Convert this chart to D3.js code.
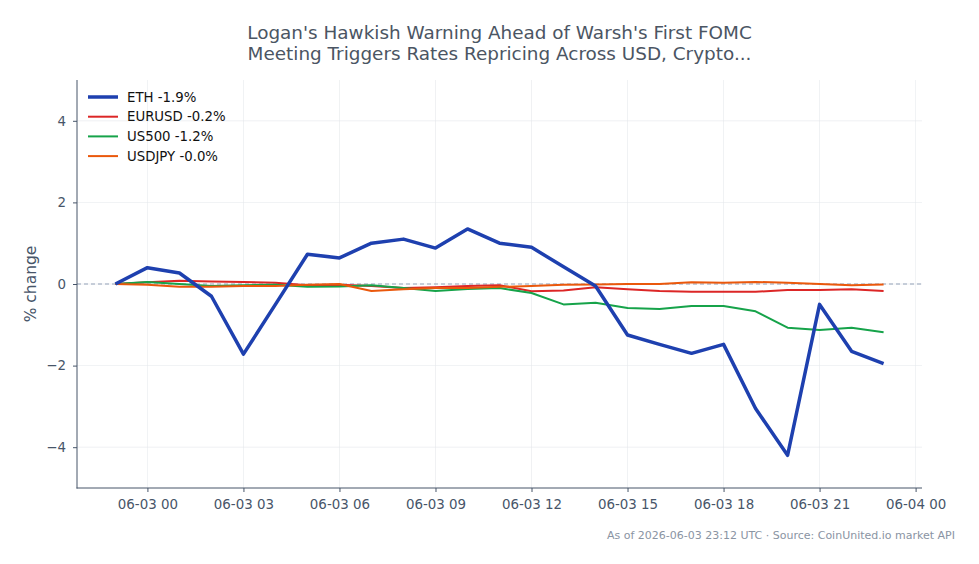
<!DOCTYPE html>
<html>
<head>
<meta charset="utf-8">
<script src="https://cdn.jsdelivr.net/npm/d3@7"></script>
<style>
  body { margin: 0; background: #fff; }
  svg text { font-family: "DejaVu Sans", sans-serif; }
</style>
</head>
<body>
<div id="chart"></div>
<script>
// hourly timestamps (UTC)
const times = [
    '2026-06-02T23:00Z', '2026-06-03T00:00Z', '2026-06-03T01:00Z', '2026-06-03T02:00Z',
    '2026-06-03T03:00Z', '2026-06-03T04:00Z', '2026-06-03T05:00Z', '2026-06-03T06:00Z',
    '2026-06-03T07:00Z', '2026-06-03T08:00Z', '2026-06-03T09:00Z', '2026-06-03T10:00Z',
    '2026-06-03T11:00Z', '2026-06-03T12:00Z', '2026-06-03T13:00Z', '2026-06-03T14:00Z',
    '2026-06-03T15:00Z', '2026-06-03T16:00Z', '2026-06-03T17:00Z', '2026-06-03T18:00Z',
    '2026-06-03T19:00Z', '2026-06-03T20:00Z', '2026-06-03T21:00Z', '2026-06-03T22:00Z',
    '2026-06-03T23:00Z',
];

const ethValues = [0, 0.4, 0.27, -0.3, -1.72, -0.5, 0.73, 0.64, 1.0, 1.1, 0.88, 1.35, 1.0,
    0.9, 0.42, -0.05, -1.25, -1.48, -1.7, -1.48, -3.05, -4.2, -0.5, -1.65, -1.95];
const eurusdValues = [0, 0.04, 0.08, 0.06, 0.05, 0.03, -0.03, -0.02, -0.05, -0.1, -0.08, -0.05,
    -0.03, -0.18, -0.16, -0.08, -0.13, -0.17, -0.19, -0.19, -0.19, -0.15, -0.15, -0.13, -0.17];
const us500Values = [0, 0.05, 0.0, -0.05, -0.03, -0.02, -0.07, -0.06, -0.03, -0.1, -0.17, -0.12,
    -0.1, -0.22, -0.5, -0.46, -0.59, -0.61, -0.54, -0.54, -0.67, -1.07, -1.13, -1.07, -1.18];
const usdjpyValues = [0, -0.02, -0.07, -0.07, -0.05, -0.05, -0.02, 0.0, -0.17, -0.13, -0.1, -0.1,
    -0.07, -0.05, -0.02, -0.01, 0.0, 0.0, 0.04, 0.03, 0.05, 0.03, 0.0, -0.03, -0.01];

const seriesNames = ['ETH -1.9%', 'EURUSD -0.2%', 'US500 -1.2%', 'USDJPY -0.0%'];
const seriesColors = ['#1e40af', '#dc2626', '#16a34a', '#ea580c'];
const seriesWidths = [3.5, 2, 2, 2];
const yTicks = [-4, -2, 0, 2, 4];
const xTickTimes = [
    '2026-06-03T00:00Z', '2026-06-03T03:00Z', '2026-06-03T06:00Z', '2026-06-03T09:00Z',
    '2026-06-03T12:00Z', '2026-06-03T15:00Z', '2026-06-03T18:00Z', '2026-06-03T21:00Z',
    '2026-06-04T00:00Z',
];

const width = 979;
const height = 564;
const margin = { top: 80, right: 57, bottom: 76, left: 77 };
const axisColor = '#475569';

const dates = times.map(t => new Date(t));
const allSeries = [ethValues, eurusdValues, us500Values, usdjpyValues];
const series = allSeries.map((vals, i) => ({
    name: seriesNames[i],
    color: seriesColors[i],
    width: seriesWidths[i],
    points: vals.map((v, j) => ({ t: dates[j], v: v })),
}));

const svg = d3.select('#chart')
    .append('svg')
    .attr('width', width)
    .attr('height', height);

// 5% padding on the time range, like the source chart
const span = dates[dates.length - 1] - dates[0];
const x = d3.scaleUtc()
    .domain([new Date(+dates[0] - span * 0.05), new Date(+dates[dates.length - 1] + span * 0.05)])
    .range([margin.left, width - margin.right]);

const y = d3.scaleLinear()
    .domain([-5, 5])
    .range([height - margin.bottom, margin.top]);

// grid
const grid = svg.append('g').attr('stroke', '#e5e7eb').attr('stroke-width', 0.8);
grid.selectAll('.gx')
    .data(xTickTimes.map(t => new Date(t)))
    .join('line')
    .attr('x1', d => x(d)).attr('x2', d => x(d))
    .attr('y1', margin.top).attr('y2', height - margin.bottom)
    .attr('opacity', 0.7);
grid.selectAll('.gy')
    .data(yTicks)
    .join('line')
    .attr('x1', margin.left).attr('x2', width - margin.right)
    .attr('y1', d => y(d)).attr('y2', d => y(d))
    .attr('opacity', 0.7);

// zero line
svg.append('line')
    .attr('x1', margin.left).attr('x2', width - margin.right)
    .attr('y1', y(0)).attr('y2', y(0))
    .attr('stroke', '#94a3b8')
    .attr('stroke-width', 1)
    .attr('stroke-dasharray', '4,3');

/**
 * draw the series, thin ones first then ETH on top
 */
const line = d3.line().x(d => x(d.t)).y(d => y(d.v));
const drawOrder = [1, 2, 3, 0];
svg.append('g')
    .selectAll('path')
    .data(drawOrder.map(i => series[i]))
    .join('path')
    .attr('fill', 'none')
    .attr('stroke', d => d.color)
    .attr('stroke-width', d => d.width)
    .attr('stroke-linejoin', 'round')
    .attr('d', d => line(d.points));

// axes (domain paths replaced by plain spines below)
let xAxis = (g) => {
    g.attr('transform', `translate(0,${height - margin.bottom})`)
        .call(d3.axisBottom(x)
            .tickValues(xTickTimes.map(t => new Date(t)))
            .tickFormat(d3.utcFormat('%m-%d %H'))
            .tickSize(4)
            .tickPadding(7));
    g.select('.domain').remove();
    g.selectAll('.tick line').attr('stroke', axisColor);
    g.selectAll('.tick text').attr('fill', axisColor).attr('font-size', '13.4px');
};

let yAxis = (g) => {
    g.attr('transform', `translate(${margin.left},0)`)
        .call(d3.axisLeft(y)
            .tickValues(yTicks)
            .tickFormat(d => d < 0 ? '\u2212' + Math.abs(d) : d)
            .tickSize(4)
            .tickPadding(7));
    g.select('.domain').remove();
    g.selectAll('.tick line').attr('stroke', axisColor);
    g.selectAll('.tick text').attr('fill', axisColor).attr('font-size', '13.4px');
};

svg.append('g').call(xAxis);
svg.append('g').call(yAxis);

// left and bottom spines
const spines = svg.append('g').attr('stroke', axisColor).attr('stroke-width', 1);
spines.append('line')
    .attr('x1', margin.left).attr('x2', margin.left)
    .attr('y1', margin.top).attr('y2', height - margin.bottom + 0.5);
spines.append('line')
    .attr('x1', margin.left - 0.5).attr('x2', width - margin.right)
    .attr('y1', height - margin.bottom).attr('y2', height - margin.bottom);

svg.append('text')
    .attr('transform', `translate(36,${y(0)}) rotate(-90)`)
    .attr('text-anchor', 'middle')
    .attr('fill', axisColor)
    .attr('font-size', '15.5px')
    .text('% change');

// title
const title = svg.append('text')
    .attr('text-anchor', 'middle')
    .attr('fill', '#4b5563')
    .attr('font-size', '18.4px');
title.append('tspan').attr('x', (margin.left + width - margin.right) / 2).attr('y', 39)
    .text('Logan\'s Hawkish Warning Ahead of Warsh\'s First FOMC');
title.append('tspan').attr('x', (margin.left + width - margin.right) / 2).attr('y', 60)
    .text('Meeting Triggers Rates Repricing Across USD, Crypto...');

// legend
const legend = svg.append('g').attr('transform', 'translate(88,97)');
const rows = legend.selectAll('g')
    .data(series)
    .join('g')
    .attr('transform', (d, i) => `translate(0,${i * 19.7})`);
rows.append('line')
    .attr('x1', 0).attr('x2', 30)
    .attr('stroke', d => d.color)
    .attr('stroke-width', d => d.width);
rows.append('text')
    .attr('x', 39)
    .attr('dy', '0.35em')
    .attr('font-size', '13.3px')
    .attr('fill', '#111')
    .text(d => d.name);

// footer
svg.append('text')
    .attr('x', 955)
    .attr('y', 539)
    .attr('text-anchor', 'end')
    .attr('font-size', '11px')
    .attr('fill', '#8a94a3')
    .text('As of 2026-06-03 23:12 UTC \u00b7 Source: CoinUnited.io market API');
</script>
</body>
</html>
